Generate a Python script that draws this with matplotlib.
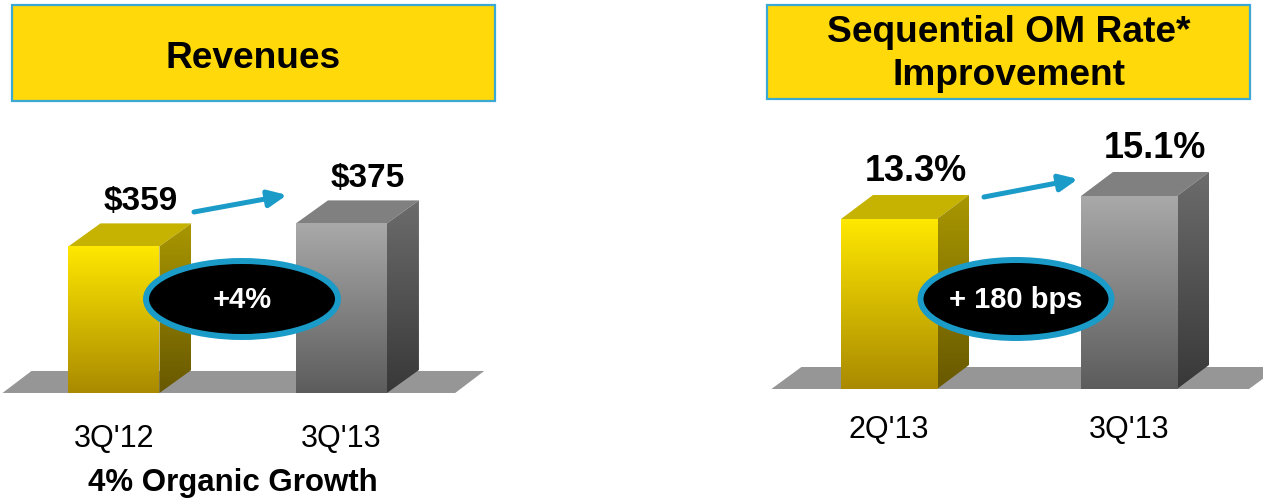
import numpy as np
import matplotlib
matplotlib.use('Agg')
import matplotlib.pyplot as plt
from matplotlib.patches import Polygon, Rectangle, Ellipse, FancyArrowPatch
from matplotlib.transforms import Affine2D
from matplotlib.colors import LinearSegmentedColormap

plt.rcParams['font.family'] = ['Liberation Sans', 'DejaVu Sans']

# ---------------- data ----------------
rev_categories = ["3Q'12", "3Q'13"]
rev_values = [359, 375]
rev_labels = ["$359", "$375"]
rev_change = "+4%"
rev_title = "Revenues"
rev_note = "4% Organic Growth"

om_categories = ["2Q'13", "3Q'13"]
om_values = [13.3, 15.1]
om_labels = ["13.3%", "15.1%"]
om_change = "+ 180 bps"
om_title = ["Sequential OM Rate*", "Improvement"]

# ---------------- styles ----------------
YELLOW_BOX = '#FFD90A'
BOX_EDGE = '#3BA9D4'
BLUE = '#1A9BC8'
FLOOR = '#969696'
yellow_style = dict(front=('#FFE800', '#A98A00'), top='#C6B200', side=('#A99700', '#685800'))
gray_style = dict(front=('#A9A9A9', '#5C5C5C'), top='#808080', side=('#6C6C6C', '#383838'))

W, H, DPI = 1263, 499, 100
fig = plt.figure(figsize=(W / DPI, H / DPI), dpi=DPI)
fig.patch.set_facecolor('white')
# top-left origin pixel transform for decorations
px = Affine2D().scale(1, -1).translate(0, H) + Affine2D().scale(1 / DPI) + fig.dpi_scale_trans


def add_axes_px(x0, y0, x1, y1):
    ax = fig.add_axes([x0 / W, 1 - y1 / H, (x1 - x0) / W, (y1 - y0) / H])
    ax.set_axis_off()
    return ax


def grad_cmap(c_top, c_bot):
    return LinearSegmentedColormap.from_list('g', [c_top, c_bot])


def draw_panel(ax, box, xlim, ylim, base, values, styles, depth_px=(32, 23), floor_depth_px=(29, 22)):
    ax.set_xlim(*xlim)
    ax.set_ylim(*ylim)
    x0p, y0p, x1p, y1p = box
    sx = (x1p - x0p) / (xlim[1] - xlim[0])   # px per x unit
    sy = (y1p - y0p) / (ylim[1] - ylim[0])   # px per y unit
    ddx, ddy = depth_px[0] / sx, depth_px[1] / sy
    fdx, fdy = floor_depth_px[0] / sx, floor_depth_px[1] / sy
    xs = np.arange(len(values))
    width = 0.4
    # floor
    fx0, fx1 = xs[0] - 0.49, xs[-1] + 0.5
    ax.add_patch(Polygon([(fx0, base), (fx1, base), (fx1 + fdx, base + fdy), (fx0 + fdx, base + fdy)],
                         closed=True, fc=FLOOR, ec='none', zorder=1))
    heights = [v - base for v in values]
    bars = ax.bar(xs, heights, width, bottom=base, color='none', lw=0, zorder=3)
    grad = np.linspace(0, 1, 256).reshape(-1, 1)
    for rect, st in zip(bars, styles):
        bx0 = rect.get_x()
        bx1 = bx0 + rect.get_width()
        by0 = rect.get_y()
        by1 = by0 + rect.get_height()
        # top face
        ax.add_patch(Polygon([(bx0, by1), (bx0 + ddx, by1 + ddy), (bx1 + ddx, by1 + ddy), (bx1, by1)],
                             closed=True, fc=st['top'], ec='none', zorder=2))
        # side face
        side = Polygon([(bx1, by0), (bx1 + ddx, by0 + ddy), (bx1 + ddx, by1 + ddy), (bx1, by1)],
                       closed=True, fc='none', ec='none', zorder=2)
        ax.add_patch(side)
        im = ax.imshow(grad, cmap=grad_cmap(*st['side']), extent=(bx1, bx1 + ddx, by0, by1 + ddy),
                       origin='upper', aspect='auto', zorder=2, interpolation='bilinear')
        im.set_clip_path(side)
        # front face
        im2 = ax.imshow(grad, cmap=grad_cmap(*st['front']), extent=(bx0, bx1, by0, by1),
                        origin='upper', aspect='auto', zorder=3, interpolation='bilinear')
        im2.set_clip_path(rect)
    ax.set_xlim(*xlim)
    ax.set_ylim(*ylim)
    return xs


# ---------------- left panel ----------------
boxL = (0, 110, 500, 420)
axL = add_axes_px(*boxL)
xsL = draw_panel(axL, boxL, (-0.501, 1.697), (238.2, 453.9), 257, rev_values, [yellow_style, gray_style])
for x, v, lab in zip(xsL, rev_values, rev_labels):
    axL.annotate(lab, xy=(x, v), xytext=(19, 26.5), textcoords='offset points', ha='center', va='baseline',
                 fontsize=24, fontweight='bold', color='black', zorder=6)
for x, c in zip(xsL, rev_categories):
    axL.annotate(c, xy=(x, 257), xytext=(0, -38.9), textcoords='offset points', ha='center', va='baseline',
                 fontsize=22, color='black')

# ---------------- right panel ----------------
boxR = (760, 110, 1263, 420)
axR = add_axes_px(*boxR)
xsR = draw_panel(axR, boxR, (-0.5375, 1.5583), (-2.426, 21.83), 0, om_values, [yellow_style, gray_style],
                 depth_px=(32, 24), floor_depth_px=(30, 22))
for x, v, lab in zip(xsR, om_values, om_labels):
    axR.annotate(lab, xy=(x, v), xytext=(19, 27.5), textcoords='offset points', ha='center', va='baseline',
                 fontsize=26, fontweight='bold', color='black', zorder=6)
for x, c in zip(xsR, om_categories):
    axR.annotate(c, xy=(x, 0), xytext=(0, -35.3), textcoords='offset points', ha='center', va='baseline',
                 fontsize=22, color='black')

# ---------------- title boxes ----------------
fig.add_artist(Rectangle((12, 5), 483, 96, transform=px, fc=YELLOW_BOX, ec=BOX_EDGE, lw=1.6, zorder=1))
fig.add_artist(Rectangle((767, 5), 483, 94, transform=px, fc=YELLOW_BOX, ec=BOX_EDGE, lw=1.6, zorder=1))
fig.text(253, 68, rev_title, transform=px, ha='center', va='baseline', fontsize=26.7, fontweight='bold', zorder=2)
fig.text(1009, 42, om_title[0], transform=px, ha='center', va='baseline', fontsize=26.7, fontweight='bold', zorder=2)
fig.text(1009, 85, om_title[1], transform=px, ha='center', va='baseline', fontsize=26.7, fontweight='bold', zorder=2)

# ---------------- arrows ----------------
for (a, b) in [((194, 212), (287, 195)), ((984, 197), (1078, 179))]:
    fig.add_artist(FancyArrowPatch(posA=a, posB=b, transform=px,
                                   arrowstyle='-|>,head_length=1.1,head_width=0.5', mutation_scale=10,
                                   lw=3.6, color=BLUE, shrinkA=0, shrinkB=0, zorder=5))

# ---------------- ellipses ----------------
for (c, w, h, s) in [((242, 299), 192, 76, rev_change), ((1016, 299), 191, 78, om_change)]:
    fig.add_artist(Ellipse(c, w, h, transform=px, fc='black', ec=BLUE, lw=4.3, zorder=5))
    fig.text(c[0], c[1] + 1, s, transform=px, ha='center', va='center', fontsize=21, fontweight='bold',
             color='white', zorder=6)

# ---------------- note ----------------
fig.text(233, 491, rev_note, transform=px, ha='center', va='baseline', fontsize=22.5, fontweight='bold', zorder=2)

fig.savefig('out.png', dpi=DPI, facecolor='white')
